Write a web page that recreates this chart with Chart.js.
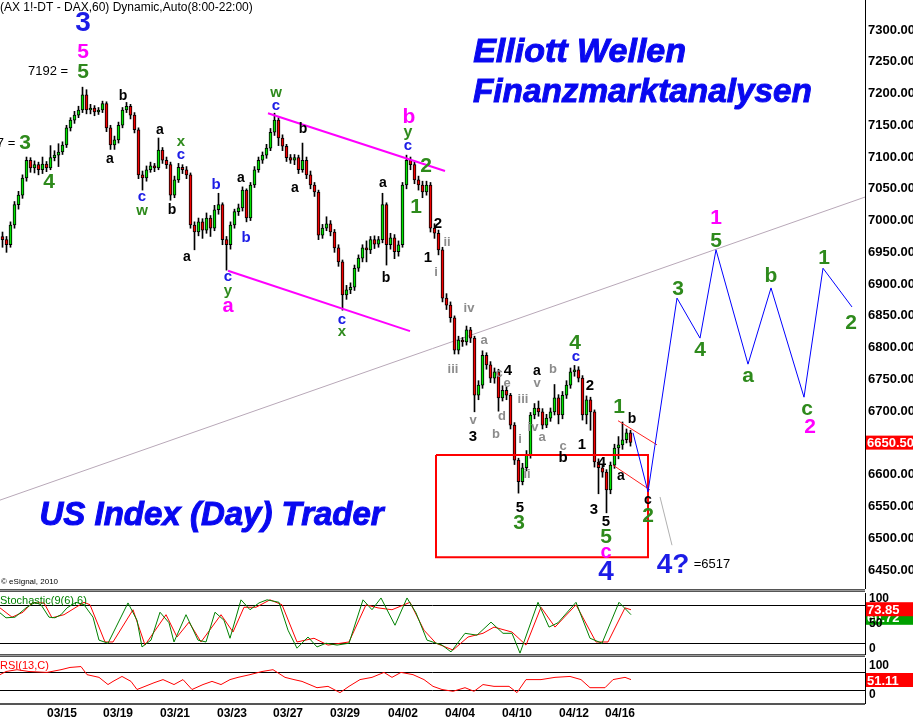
<!DOCTYPE html>
<html>
<head>
<meta charset="utf-8">
<script src="https://cdn.jsdelivr.net/npm/chart.js@4.4.0/dist/chart.umd.min.js"></script>
<style>
  body { margin:0; background:#fff; width:913px; height:722px; overflow:hidden; position:relative; }
  canvas { position:absolute; left:0; }
  #main { top:0; }
  #stoch { top:592px; }
  #rsi { top:657px; }
  .sep { position:absolute; left:0; width:865px; background:#9a9a9a; border-top:1px solid #555; border-bottom:1px solid #555; }
</style>
</head>
<body>
<canvas id="main" width="913" height="589"></canvas>
<canvas id="stoch" width="913" height="63"></canvas>
<canvas id="rsi" width="913" height="65"></canvas>
<div class="sep" style="top:589px;height:1px"></div>
<div class="sep" style="top:654px;height:1px"></div>
<div class="sep" style="top:703px;height:0px"></div>
<script>
// FDAX hourly candles (one bar = one hour)
var opens = [6975,6970,6962,6993,7025,7040,7067,7095,7083,7088,
  7080,7089,7083,7099,7103,7108,7119,7146,7158,7166,
  7174,7198,7174,7177,7171,7174,7184,7146,7119,7127,
  7150,7174,7180,7166,7143,7072,7067,7080,7086,7083,
  7111,7095,7088,7040,7064,7084,7080,7072,6993,6982,
  6998,6985,7004,6988,7017,7025,6970,6962,6993,7014,
  7020,7048,7004,7056,7080,7095,7103,7114,7139,7158,
  7130,7117,7099,7095,7099,7080,7095,7072,7056,7045,
  6977,6988,6995,6982,6957,6935,6883,6891,6895,6925,
  6941,6957,6954,6970,6963,6970,7025,6962,6973,6951,
  6962,7056,7095,7088,7064,7056,7045,7056,6988,6980,
  6954,6878,6867,6847,6796,6812,6809,6828,6815,6725,
  6741,6788,6773,6752,6762,6721,6733,6725,6678,6623,
  6589,6611,6631,6694,6705,6699,6678,6689,6699,6721,
  6694,6725,6741,6762,6765,6752,6694,6718,6699,6620,
  6611,6604,6576,6615,6642,6647,6655,6666];
var highs = [6982,6975,6998,7030,7046,7072,7100,7099,7094,7092,
  7100,7093,7118,7110,7121,7124,7150,7162,7172,7180,
  7210,7206,7183,7181,7178,7188,7187,7150,7133,7155,
  7178,7186,7183,7170,7146,7078,7086,7092,7090,7130,
  7115,7100,7092,7070,7090,7088,7085,7075,6998,7004,
  7003,7012,7008,7024,7043,7028,6975,6998,7018,7026,
  7053,7050,7060,7085,7100,7108,7120,7145,7169,7162,
  7135,7120,7104,7104,7103,7122,7100,7078,7060,7048,
  6994,7006,7000,6986,6962,6938,6898,6902,6930,6946,
  6962,6968,6975,6976,6975,7043,7028,6980,6978,6968,
  7060,7103,7100,7092,7070,7062,7062,7060,6995,6985,
  6958,6885,6872,6850,6818,6816,6834,6832,6818,6748,
  6795,6792,6778,6768,6766,6740,6738,6728,6682,6626,
  6618,6638,6698,6712,6716,6704,6695,6705,6742,6726,
  6731,6748,6768,6772,6770,6756,6724,6722,6702,6625,
  6616,6608,6620,6648,6660,6683,6672,6670];
var lows = [6958,6950,6958,6988,7018,7035,7062,7076,7075,7072,
  7074,7077,7080,7094,7085,7104,7115,7141,7153,7162,
  7170,7168,7168,7165,7167,7170,7140,7112,7112,7122,
  7146,7170,7160,7138,7066,7048,7062,7076,7077,7080,
  7090,7082,7032,7036,7060,7074,7066,6988,6954,6976,
  6972,6980,6975,6984,7010,6962,6922,6955,6988,7008,
  7015,6998,7000,7052,7076,7090,7098,7110,7134,7118,
  7110,7093,7090,7088,7074,7076,7066,7050,7038,6970,
  6972,6984,6976,6950,6928,6859,6876,6885,6890,6920,
  6935,6935,6948,6956,6958,6965,6930,6955,6940,6944,
  6958,7050,7080,7058,7048,7036,7040,6982,6972,6946,
  6872,6860,6840,6790,6790,6802,6804,6808,6699,6718,
  6736,6766,6745,6744,6700,6716,6718,6672,6616,6571,
  6584,6606,6626,6688,6692,6672,6674,6684,6694,6680,
  6688,6720,6736,6755,6746,6686,6680,6670,6612,6570,
  6596,6540,6570,6610,6625,6640,6650,6645];
var closes = [6970,6962,6993,7025,7040,7067,7095,7083,7088,7080,
  7089,7083,7099,7103,7108,7119,7146,7158,7166,7174,
  7198,7174,7177,7171,7174,7184,7146,7119,7127,7150,
  7174,7180,7166,7143,7072,7067,7080,7086,7083,7111,
  7095,7088,7040,7064,7084,7080,7072,6993,6982,6998,
  6985,7004,6988,7017,7025,6970,6962,6993,7014,7020,
  7048,7004,7056,7080,7095,7103,7114,7139,7158,7130,
  7117,7099,7095,7099,7080,7095,7072,7056,7045,6977,
  6988,6995,6982,6957,6935,6883,6891,6895,6925,6941,
  6957,6954,6970,6963,6970,7025,6962,6973,6951,6962,
  7056,7095,7088,7064,7056,7045,7056,6988,6980,6954,
  6878,6867,6847,6796,6812,6809,6828,6815,6725,6741,
  6788,6773,6752,6762,6721,6733,6725,6678,6623,6589,
  6611,6631,6694,6705,6699,6678,6689,6699,6721,6694,
  6725,6741,6762,6765,6752,6694,6718,6699,6620,6611,
  6604,6576,6615,6642,6647,6655,6666,6651];

var dateTicks  = [15.5, 29.5, 43.75, 58, 72, 86.25, 100.75, 115, 129.25, 143.5, 155];
var dateLabels = ['03/15','03/19','03/21','03/23','03/27','03/29','04/02','04/04','04/10','04/12','04/16'];
var priceTicks = [6450,6500,6550,6600,6650,6700,6750,6800,6850,6900,6950,7000,7050,7100,7150,7200,7250,7300];
var lastPrice = 6650.50;

// drawn lines (bar index, price)
var trendX = [0, 216.25],        trendY = [6560, 7037];
var chanTopX = [67, 111.25],     chanTopY = [7169, 7078];
var chanBotX = [57, 102.5],      chanBotY = [6921, 6826];
var boxX = [109, 162, 162, 109, 109], boxY = [6631, 6631, 6470, 6470, 6631];
var wedgeTopX = [154.5, 164.25], wedgeTopY = [6685, 6647];
var wedgeBotX = [153.25, 162.5], wedgeBotY = [6615, 6576];
var dropX = [165, 168],          dropY = [6565, 6489];
var forecastX = [158.25, 162, 169.25, 175, 179, 187, 192.75, 201, 205.75, 213];
var forecastY = [6666, 6573, 6878, 6815, 6954, 6774, 6894, 6722, 6925, 6864];

// Stochastic %K (green) and %D (red)
var stochKX = [0,1.5,3.75,6.5,8.75,10.25,12.25,13.75,15.25,16.75,19,21,23.25,24.75,27,29,32,34.25,35.5,37.75,
  40,42.25,43.5,46.5,49.5,51.5,53.75,56,57.5,60.25,62.5,64.75,66.75,69.75,72,74.25,77,79.25,81.5,84.25,
  87.25,90.75,93,95.25,96.75,98.75,101.75,104,106.75,110.5,112.75,116.25,119.25,122.75,125.75,128,130,134.5,137.25,139.5,
  144,147.5,150.5,154.75,157.75];
var stochK = [68,60,61,76,85,81,61,60,65,76,85,81,61,24,19,45,84,56,13,24,
  69,52,21,65,24,21,69,56,27,89,73,84,89,85,40,11,29,13,19,16,
  19,89,73,92,73,48,92,68,24,16,5,35,32,53,35,35,3,85,45,52,
  85,27,19,85,65];
var stochDX = [0,3,5.75,8,11,13,16,19,21,22.5,26.25,28.25,33.25,36.25,41.5,44.25,47.25,50.25,55.25,58.25,
  61,64,67.5,70.5,74.25,78.5,82,87.25,91.5,94.5,98,102.5,106,109,113.25,117,120.75,123.5,128,131.5,
  135.25,138.75,144,149,152,156.25,157.75];
var stochD = [76,61,69,84,84,60,65,77,85,81,21,21,73,16,65,29,53,21,65,37,
  77,77,89,81,21,27,16,21,81,76,73,85,40,19,8,29,35,45,37,16,
  77,45,81,21,21,76,73];
// RSI(13)
var rsiX = [0,1.5,4.25,7.25,11.75,15.25,17.5,20.25,21.75,24.75,27,28.25,30.5,32.75,34.25,36.25,38.5,40.75,43.5,45.75,
  48,50.75,53,55.25,57.5,59.5,62.5,65.5,68.25,71.25,73.5,75.5,79.25,82,85,87.25,90,93,96,98,
  100.25,103.25,106,108.25,110.5,113.25,116.25,118.5,120.75,123.5,127.25,129.25,131.5,135.25,138.75,142.5,145.25,147.5,151.25,153.25,
  156.25,157.75];
var rsiV = [63,70,74,70,68,74,79,81,63,57,41,48,59,48,30,37,45,52,41,52,
  30,41,48,41,52,57,63,70,74,57,52,48,34,37,23,37,52,57,68,57,
  68,63,52,37,30,26,34,26,41,37,37,23,52,52,57,59,52,34,34,52,
  57,52];

var K = '#000000', B = '#1c1ce6', G = '#2e8a1c', M = '#ff00ff', GR = '#8c8c8c';
// wave count text: bar, price, text, colour, size
var waveLabels = [
  [20.75,7311,'3',B,28],[20.75,7265,'5',M,21],[20.75,7234,'5',G,21],
  [6.25,7122,'3',G,21],[12.25,7061,'4',G,21],
  [30.75,7196,'b',K,14],[27.5,7097,'a',K,14],[40,7143,'a',K,14],
  [45.25,7124,'x',G,15],[45.25,7103,'c',B,15],[35.5,7037,'c',B,15],[35.5,7015,'w',G,15],
  [43,7017,'b',K,14],[54,7056,'b',B,15],[46.75,6943,'a',K,14],[60.25,7067,'a',K,14],[61.5,6973,'b',B,15],
  [57,6911,'c',B,15],[57,6889,'y',G,15],[57,6864,'a',M,20],
  [69,7201,'w',G,15],[69,7180,'c',B,15],[73.75,7051,'a',K,14],[75.75,7144,'b',K,14],
  [85.5,6844,'c',B,15],[85.5,6825,'x',G,15],[95.75,7059,'a',K,14],[96.5,6910,'b',K,14],
  [102.25,7163,'b',M,21],[102,7139,'y',G,16],[102,7117,'c',B,15],
  [106.5,7086,'2',G,21],[104,7021,'1',G,21],[109.5,6995,'2',K,15],[111.75,6965,'ii',GR,13],
  [107,6941,'1',K,15],[109,6918,'i',GR,13],[117.25,6862,'iv',GR,13],[113.25,6765,'iii',GR,13],
  [121,6812,'a',GR,13],[124.75,6759,'c',GR,13],[127,6763,'4',K,15],[126.75,6744,'e',GR,13],
  [125.5,6691,'d',GR,13],[124,6664,'b',GR,13],[118.25,6686,'v',GR,13],[118.25,6659,'3',K,15],
  [130.75,6719,'iii',GR,13],[134.25,6763,'a',K,14],[134.25,6744,'v',GR,13],[138.25,6765,'b',GR,13],
  [133.25,6675,'iv',GR,13],[135.5,6658,'a',GR,13],[140.75,6644,'c',GR,13],[140.75,6626,'b',K,15],
  [130,6655,'i',GR,13],[131.75,6600,'ii',GR,13],[145.5,6647,'1',K,15],[147.5,6740,'2',K,15],
  [143.75,6807,'4',G,21],[144,6785,'c',B,15],[148.5,6544,'3',K,15],[150.5,6618,'4',K,15],
  [130,6548,'5',K,15],[129.75,6524,'3',G,21],[151.5,6526,'5',K,15],[151.5,6502,'5',G,21],
  [151.5,6478,'c',M,20],[151.5,6447,'4',B,28],
  [154.75,6707,'1',G,21],[158,6688,'b',K,14],[155.25,6598,'a',K,14],[162,6560,'c',K,14],[162,6535,'2',G,21],
  [168.25,6458,'4?',B,28],
  [179,7004,'1',M,21],[179,6968,'5',G,21],[169.5,6892,'3',G,21],[175,6796,'4',G,21],
  [192.75,6913,'b',G,21],[187,6755,'a',G,21],[201.75,6703,'c',G,21],[202.5,6675,'2',M,21],
  [206,6940,'1',G,21],[212.75,6839,'2',G,21]
];
var plainNotes = [[12,7234,'7192 ='],[1.5,7122,'7 ='],[178,6458,'=6517']];
var banners = [[144.9,7265,'Elliott Wellen',34,215],[160.6,7201,'Finanzmarktanalysen',34,339],[52.9,6535,'US Index (Day) Trader',33,347]];

var FONT = '"Liberation Sans", Arial, sans-serif';
var XMAX = 216.25;

function pts(xs, ys) { return xs.map(function (v, i) { return {x: v, y: ys[i]}; }); }
function lineSet(xs, ys, color, width, order) {
  return {type: 'line', data: pts(xs, ys), borderColor: color, borderWidth: width,
          pointRadius: 0, tension: 0, fill: false, order: order};
}
function tag(ctx, y, text, bg) {
  ctx.fillStyle = bg;
  ctx.fillRect(866, y - 7, 47, 14);
  ctx.fillStyle = '#fff';
  ctx.font = 'bold 13px ' + FONT;
  ctx.textAlign = 'left';
  ctx.textBaseline = 'middle';
  ctx.fillText(text, 867, y + 1);
}

var mainDecor = {
  id: 'mainDecor',
  afterDatasetsDraw: function (chart) {
    var ctx = chart.ctx, x = chart.scales.x, y = chart.scales.y;
    ctx.save();
    ctx.textAlign = 'center';
    ctx.textBaseline = 'middle';
    waveLabels.forEach(function (l) {
      ctx.font = 'bold ' + l[4] + 'px ' + FONT;
      ctx.fillStyle = l[3];
      ctx.fillText(l[2], x.getPixelForValue(l[0]), y.getPixelForValue(l[1]));
    });
    ctx.font = '13px ' + FONT;
    ctx.fillStyle = K;
    plainNotes.forEach(function (l) {
      ctx.fillText(l[2], x.getPixelForValue(l[0]), y.getPixelForValue(l[1]));
    });
    ctx.fillStyle = '#0808f0';
    ctx.strokeStyle = '#0808f0';
    ctx.lineWidth = 1;
    banners.forEach(function (b) {
      ctx.font = 'italic bold ' + b[3] + 'px ' + FONT;
      var px = x.getPixelForValue(b[0]), py = y.getPixelForValue(b[1]);
      ctx.fillText(b[2], px, py, b[4]);
      ctx.strokeText(b[2], px, py, b[4]);
    });
    ctx.textAlign = 'left';
    ctx.fillStyle = K;
    ctx.font = '12px ' + FONT;
    ctx.fillText('(AX 1!-DT - DAX,60) Dynamic,Auto(8:00-22:00)', 0, 8);
    ctx.font = '8px ' + FONT;
    ctx.fillText('\u00a9 eSignal, 2010', 1, chart.chartArea.bottom - 7);
    tag(ctx, y.getPixelForValue(lastPrice), lastPrice.toFixed(2), '#ff0000');
    ctx.restore();
  }
};

new Chart(document.getElementById('main'), {
  type: 'bar',
  data: {
    datasets: [
      lineSet(trendX, trendY, '#b8a8b8', 1, 20),
      {type: 'bar', data: closes.map(function (c, i) { return {x: i + 0.625, y: [lows[i], highs[i]]}; }),
       backgroundColor: '#000', barThickness: 1, grouped: false, order: 15},
      {type: 'bar', data: closes.map(function (c, i) { return {x: i + 0.625, y: [opens[i], c]}; }),
       backgroundColor: closes.map(function (c, i) { return c >= opens[i] ? '#00e400' : '#f20000'; }),
       borderColor: '#000', borderWidth: 1, borderSkipped: false, minBarLength: 1,
       barThickness: 3, grouped: false, order: 14},
      lineSet(boxX, boxY, '#ff0000', 2, 6),
      lineSet(chanTopX, chanTopY, '#ff00ff', 2, 5),
      lineSet(chanBotX, chanBotY, '#ff00ff', 2, 5),
      lineSet(wedgeTopX, wedgeTopY, '#ff2020', 1, 4),
      lineSet(wedgeBotX, wedgeBotY, '#ff2020', 1, 4),
      lineSet(dropX, dropY, '#b0b0b0', 1, 4),
      lineSet(forecastX, forecastY, '#0000ff', 1, 1)
    ]
  },
  options: {
    responsive: false, devicePixelRatio: 1, animation: false, events: [],
    layout: {padding: 0},
    plugins: {legend: {display: false}, tooltip: {enabled: false}},
    scales: {
      x: {type: 'linear', min: 0, max: XMAX, offset: false, display: false},
      y: {type: 'linear', position: 'right', min: 6420.1, max: 7347.2,
          grid: {display: false, drawTicks: false, tickLength: 0}, border: {display: true, color: '#000', width: 1},
          ticks: {color: '#000', font: {family: FONT, size: 13, weight: 'bold'}, padding: 3,
                  callback: function (v) { return v.toFixed(2); }},
          afterBuildTicks: function (s) { s.ticks = priceTicks.map(function (v) { return {value: v}; }); },
          afterFit: function (s) { s.width = 48; s.paddingTop = 0; s.paddingBottom = 0; }}
    }
  },
  plugins: [mainDecor]
});

function panelDecor(bands, axisLabels, margin, title, titleColor, tags) {
  return {
    id: 'panelDecor',
    beforeDatasetsDraw: function (chart) {
      var ctx = chart.ctx, y = chart.scales.y, a = chart.chartArea;
      ctx.save();
      ctx.strokeStyle = '#000';
      ctx.lineWidth = 1;
      bands.forEach(function (v) {
        var py = Math.round(y.getPixelForValue(v)) + 0.5;
        ctx.beginPath(); ctx.moveTo(a.left, py); ctx.lineTo(a.right, py); ctx.stroke();
      });
      ctx.restore();
    },
    afterDraw: function (chart) {
      var ctx = chart.ctx, y = chart.scales.y, a = chart.chartArea;
      ctx.save();
      ctx.font = '11px ' + FONT;
      ctx.fillStyle = titleColor;
      ctx.textAlign = 'left';
      ctx.textBaseline = 'middle';
      ctx.fillText(title, 0, a.top + 8);
      tags.forEach(function (t) { tag(ctx, y.getPixelForValue(t[0]), t[1], t[2]); });
      ctx.font = 'bold 12px ' + FONT;
      ctx.fillStyle = '#000';
      ctx.textAlign = 'left';
      axisLabels.forEach(function (l) {
        var py = Math.min(Math.max(y.getPixelForValue(l[0]), a.top + margin), a.bottom - margin);
        ctx.fillText(l[1], a.right + 4, py);
      });
      ctx.restore();
    }
  };
}

function panelOptions(showDates) {
  return {
    responsive: false, devicePixelRatio: 1, animation: false, events: [],
    layout: {padding: {top: 1, bottom: 0, left: 0, right: 0}},
    plugins: {legend: {display: false}, tooltip: {enabled: false}},
    scales: {
      x: {type: 'linear', min: 0, max: XMAX, offset: false, display: showDates,
          grid: {display: false, drawTicks: false, tickLength: 0}, border: {display: false},
          ticks: {autoSkip: false, maxRotation: 0, minRotation: 0, padding: 3, color: '#000',
                  font: {family: FONT, size: 12, weight: 'bold'},
                  callback: function (v, i) { return dateLabels[i]; }},
          afterBuildTicks: function (s) { s.ticks = dateTicks.map(function (v) { return {value: v}; }); },
          afterFit: function (s) { if (showDates) { s.height = 19; } s.paddingLeft = 0; s.paddingRight = 0; }},
      y: {type: 'linear', position: 'right', min: 0, max: 100,
          grid: {display: false, drawTicks: false, tickLength: 0}, border: {display: true, color: '#000', width: 1},
          ticks: {display: false},
          afterFit: function (s) { s.width = 48; s.paddingTop = 0; s.paddingBottom = 0; }}
    }
  };
}

new Chart(document.getElementById('stoch'), {
  type: 'line',
  data: {datasets: [
    lineSet(stochDX, stochD, '#ff0000', 1, 2),
    lineSet(stochKX, stochK, '#008000', 1, 1)
  ]},
  options: panelOptions(false),
  plugins: [panelDecor([80, 20], [[100, '100'], [50, '50'], [0, '0']], 6,
    'Stochastic(9(6),6)', '#008000', [[60, '60.72', '#00a000'], [73.85, '73.85', '#ff0000']])]
});

new Chart(document.getElementById('rsi'), {
  type: 'line',
  data: {datasets: [lineSet(rsiX, rsiV, '#ff0000', 1, 1)]},
  options: panelOptions(true),
  plugins: [panelDecor([70, 30], [[100, '100'], [0, '0']], 8,
    'RSI(13,C)', '#ff0000', [[51.11, '51.11', '#ff0000']])]
});
</script>
</body>
</html>
